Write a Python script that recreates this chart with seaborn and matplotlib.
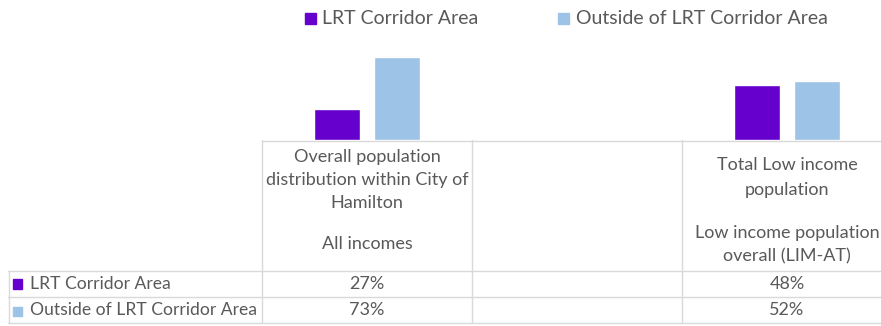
import matplotlib
matplotlib.use("Agg")
import matplotlib.pyplot as plt
import matplotlib.transforms as mtransforms
from matplotlib.lines import Line2D
from matplotlib.patches import Rectangle
import seaborn as sns
import pandas as pd
import numpy as np

# ---- data ----
col_keys = ["all", "blank", "low"]
col_header_top = [["Overall population", "distribution within City of", "Hamilton"], [], ["Total Low income", "population"]]
col_header_bottom = [["All incomes"], [], ["Low income population", "overall (LIM-AT)"]]
series = ["LRT Corridor Area", "Outside of LRT Corridor Area"]
lrt_values = [27, np.nan, 48]
outside_values = [73, np.nan, 52]
colors = ["#6600CC", "#9DC3E6"]

W, H = 881, 326
FONT = "Lato"
TXT = "#595959"
GRID = "#D9D9D9"

sns.set_theme(style="white")
plt.rcParams["font.family"] = [FONT, "DejaVu Sans"]

df = pd.DataFrame({
    "col": col_keys * 2,
    "series": [series[0]] * 3 + [series[1]] * 3,
    "value": lrt_values + outside_values,
})

fig = plt.figure(figsize=(W / 100, H / 100), dpi=100)
ax = fig.add_axes([262 / W, (H - 140) / H, 630 / W, 91 / H])
sns.barplot(data=df, x="col", y="value", hue="series", order=col_keys, hue_order=series,
            palette=colors, width=0.571, gap=0.233, ax=ax, legend=False, saturation=1, errorbar=None)
ax.set_xlim(-0.5, 2.5)
ax.set_ylim(0, 80)
ax.axis("off")

# transform: y in pixels from top
Tpx = mtransforms.Affine2D().scale(1 / W, -1 / H).translate(0, 1) + fig.transFigure
Tmix = mtransforms.blended_transform_factory(ax.transData, Tpx)

def hline(x0, x1, y):
    fig.add_artist(Line2D([x0, x1], [y, y], transform=Tpx, color=GRID, lw=1))

def vline_data(xd, y0, y1):
    fig.add_artist(Line2D([xd, xd], [y0, y1], transform=Tmix, color=GRID, lw=1, clip_on=False))

# table grid
hline(262, W, 140.5)
hline(8, W, 271)
hline(8, W, 297)
hline(8, W, 323)
fig.add_artist(Line2D([8.5, 8.5], [271, 323], transform=Tpx, color=GRID, lw=1))
for b in [-0.5, 0.5, 1.5]:
    vline_data(b, 140, 323)

fs = 13
# headers
top_y = {3: [157, 180, 203], 2: [165, 190]}
for i, lines in enumerate(col_header_top):
    if not lines:
        continue
    ys = top_y[len(lines)]
    for ln, y in zip(lines, ys):
        fig.text(i, y, ln, transform=Tmix, ha="center", va="center", color=TXT, fontsize=fs)
bot_y = {1: [244], 2: [233, 256]}
for i, lines in enumerate(col_header_bottom):
    if not lines:
        continue
    ys = bot_y[len(lines)]
    for ln, y in zip(lines, ys):
        fig.text(i, y, ln, transform=Tmix, ha="center", va="center", color=TXT, fontsize=fs)

# row labels and values
row_y = [284, 310]
sq_y = [(279, 289), (307, 316)]
for r, (name, vals) in enumerate(zip(series, [lrt_values, outside_values])):
    y0, y1 = sq_y[r]
    fig.add_artist(Rectangle((13, y0), 9, y1 - y0, transform=Tpx, color=colors[r]))
    fig.text(30, row_y[r], name, transform=Tpx, ha="left", va="center", color=TXT, fontsize=12.6)
    for i, v in enumerate(vals):
        if np.isnan(v):
            continue
        fig.text(i, row_y[r], f"{v:.0f}%", transform=Tmix, ha="center", va="center", color=TXT, fontsize=fs)

# legend
leg = [(305, 322), (558, 576)]
for (sx, tx), name, c in zip(leg, series, colors):
    fig.add_artist(Rectangle((sx, 13), 11, 11, transform=Tpx, color=c))
    fig.text(tx, 18.5, name, transform=Tpx, ha="left", va="center", color=TXT, fontsize=14)

fig.savefig("out.png", dpi=100, facecolor="white")
